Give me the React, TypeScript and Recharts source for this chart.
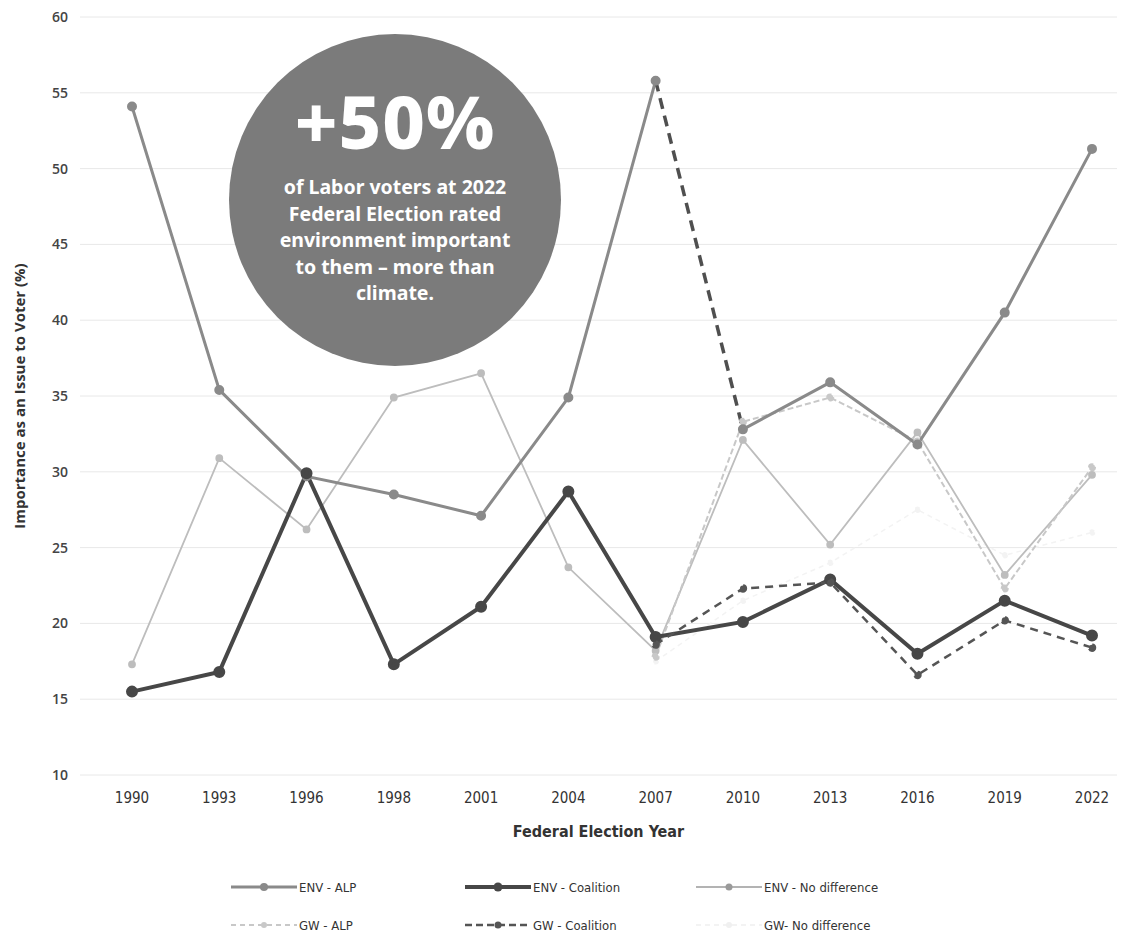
import React from "react";
import {
  LineChart,
  Line,
  CartesianGrid,
  XAxis,
  YAxis,
} from "recharts";

// Election years (category axis)
const years = ["1990", "1993", "1996", "1998", "2001", "2004", "2007", "2010", "2013", "2016", "2019", "2022"];

// Environment importance (%) by party voted for
const envAlp = [54.1, 35.4, 29.7, 28.5, 27.1, 34.9, 55.8, 32.8, 35.9, 31.8, 40.5, 51.3];
const envCoalition = [15.5, 16.8, 29.9, 17.3, 21.1, 28.7, 19.1, 20.1, 22.9, 18.0, 21.5, 19.2];
const envNoDiff = [17.3, 30.9, 26.2, 34.9, 36.5, 23.7, 18.2, 32.1, 25.2, 32.6, 23.2, 29.8];

// Global warming importance (%) - asked from 2007
const gwAlp = [null, null, null, null, null, null, 17.8, 33.3, 34.9, 32.0, 22.3, 30.3];
const gwCoalition = [null, null, null, null, null, null, 18.6, 22.3, 22.7, 16.6, 20.2, 18.4];
const gwNoDiff = [null, null, null, null, null, null, 17.5, 21.5, 24.0, 27.5, 24.5, 26.0];

const yTicks = [10, 15, 20, 25, 30, 35, 40, 45, 50, 55, 60];

// 2007 -> 2010 ENV-ALP segment is drawn dashed in the original
const data = years.map((year, i) => ({
  year,
  envAlpA: i <= 6 ? envAlp[i] : null,
  envAlpB: i >= 7 ? envAlp[i] : null,
  envAlpBridge: i === 6 || i === 7 ? envAlp[i] : null,
  envCoalition: envCoalition[i],
  envNoDiff: envNoDiff[i],
  gwAlp: gwAlp[i],
  gwCoalition: gwCoalition[i],
  gwNoDiff: gwNoDiff[i],
}));

const C_ALP = "#8a8a8a";
const C_COAL = "#474747";
const C_ND = "#bdbdbd";
const C_GW_ALP = "#c8c8c8";
const C_GW_COAL = "#555555";
const C_GW_ND = "#f3f3f3";

type KeyProps = { color: string; width: number; dash?: string; r: number; len?: number };

const LegendKey: React.FC<KeyProps> = ({ color, width, dash, r, len = 66 }) => (
  <svg width={len} height={14} style={{ display: "block" }}>
    <line x1={0} y1={7} x2={len} y2={7} stroke={color} strokeWidth={width} strokeDasharray={dash} />
    <circle cx={len / 2} cy={7} r={r} fill={color} />
  </svg>
);

const legendItems = [
  { label: "ENV - ALP", x: 231, y: 887, key: { color: C_ALP, width: 3, r: 4 } },
  { label: "ENV - Coalition", x: 465, y: 887, key: { color: C_COAL, width: 4, r: 4.5 } },
  { label: "ENV - No difference", x: 696, y: 887, key: { color: "#9a9a9a", width: 1.5, r: 3.5 } },
  { label: "GW - ALP", x: 231, y: 925, key: { color: C_GW_ALP, width: 2, r: 3, dash: "5 4" } },
  { label: "GW - Coalition", x: 465, y: 925, key: { color: C_GW_COAL, width: 2.5, r: 3.5, dash: "7 4" } },
  { label: "GW- No difference", x: 696, y: 925, key: { color: "#f0f0f0", width: 1.5, r: 3, dash: "5 4" } },
];

export default function App() {
  return (
    <div
      style={{
        position: "absolute",
        left: 0,
        top: 0,
        width: 1127,
        height: 938,
        background: "#ffffff",
        overflow: "hidden",
      }}
    >
      <LineChart
        width={1127}
        height={938}
        data={data}
        margin={{ top: 17, right: 10, bottom: 93, left: 0 }}
      >
        <CartesianGrid horizontal vertical={false} stroke="#e8e8e8" />
        <XAxis
          dataKey="year"
          padding={{ left: 52, right: 25 }}
          axisLine={false}
          tickLine={false}
          tickSize={0}
          tickMargin={17}
          height={70}
          tick={{ fill: "#333", fontSize: 15, fontFamily: "'DejaVu Sans Condensed', 'Liberation Sans Narrow', sans-serif" }}
          label={{
            value: "Federal Election Year",
            position: "insideBottom",
            offset: 8,
            style: { fill: "#333", fontSize: 16, fontWeight: 700, fontFamily: "'Liberation Sans Narrow', 'DejaVu Sans Condensed', sans-serif" },
          }}
        />
        <YAxis
          domain={[10, 60]}
          ticks={yTicks}
          width={80}
          axisLine={false}
          tickLine={false}
          tickSize={0}
          tickMargin={12}
          tick={{ fill: "#444", fontSize: 14, fontWeight: 600, fontFamily: "'Open Sans', sans-serif" }}
          label={{
            value: "Importance as an Issue to Voter (%)",
            angle: -90,
            position: "insideLeft",
            offset: 20,
            style: { textAnchor: "middle", fill: "#333", fontSize: 15, fontWeight: 700, fontFamily: "'Open Sans', sans-serif" },
          }}
        />

        {/* faint series first */}
        <Line dataKey="gwNoDiff" stroke={C_GW_ND} strokeWidth={1.5} strokeDasharray="5 4"
          dot={{ r: 2.5, fill: C_GW_ND, stroke: C_GW_ND }} isAnimationActive={false} />
        <Line dataKey="envNoDiff" stroke={C_ND} strokeWidth={1.8}
          dot={{ r: 3, fill: C_ND, stroke: C_ND }} isAnimationActive={false} />
        <Line dataKey="gwAlp" stroke={C_GW_ALP} strokeWidth={2} strokeDasharray="6 3"
          dot={{ r: 3, fill: C_GW_ALP, stroke: C_GW_ALP }} isAnimationActive={false} />

        {/* ENV - ALP */}
        <Line dataKey="envAlpA" stroke={C_ALP} strokeWidth={3}
          dot={{ r: 3.5, fill: C_ALP, stroke: C_ALP }} isAnimationActive={false} />
        <Line dataKey="envAlpB" stroke={C_ALP} strokeWidth={3}
          dot={{ r: 3.5, fill: C_ALP, stroke: C_ALP }} isAnimationActive={false} />
        <Line dataKey="envAlpBridge" stroke="#4f4f4f" strokeWidth={3.5} strokeDasharray="11 7"
          dot={false} isAnimationActive={false} />

        {/* Coalition */}
        <Line dataKey="envCoalition" stroke={C_COAL} strokeWidth={4}
          dot={{ r: 4, fill: C_COAL, stroke: C_COAL }} isAnimationActive={false} />
        <Line dataKey="gwCoalition" stroke={C_GW_COAL} strokeWidth={2.5} strokeDasharray="8 6"
          dot={{ r: 3, fill: C_GW_COAL, stroke: C_GW_COAL }} isAnimationActive={false} />
      </LineChart>

      {/* callout bubble */}
      <div
        style={{
          position: "absolute",
          left: 395 - 166,
          top: 200 - 166,
          width: 332,
          height: 332,
          borderRadius: "50%",
          background: "#7b7b7b",
          color: "#ffffff",
          fontFamily: "'Noto Sans', 'Open Sans', sans-serif",
          fontWeight: 700,
          textAlign: "center",
        }}
      >
        <div style={{ position: "absolute", left: 0, right: 0, top: 50, fontSize: 74, fontWeight: 800, lineHeight: "74px", letterSpacing: 1 }}>
          +50%
        </div>
        <div style={{ position: "absolute", left: 0, right: 0, top: 140, fontSize: 19.5, lineHeight: "26.5px" }}>
          of Labor voters at 2022
          <br />
          Federal Election rated
          <br />
          environment important
          <br />
          to them – more than
          <br />
          climate.
        </div>
      </div>

      {/* legend */}
      {legendItems.map((it) => (
        <div
          key={it.label}
          style={{
            position: "absolute",
            left: it.x,
            top: it.y - 8,
            height: 16,
            display: "flex",
            alignItems: "center",
            gap: 2,
            fontFamily: "'Liberation Sans Narrow', 'DejaVu Sans Condensed', sans-serif",
            fontSize: 13,
            color: "#333",
            whiteSpace: "nowrap",
          }}
        >
          <LegendKey {...it.key} />
          <span>{it.label}</span>
        </div>
      ))}
    </div>
  );
}
